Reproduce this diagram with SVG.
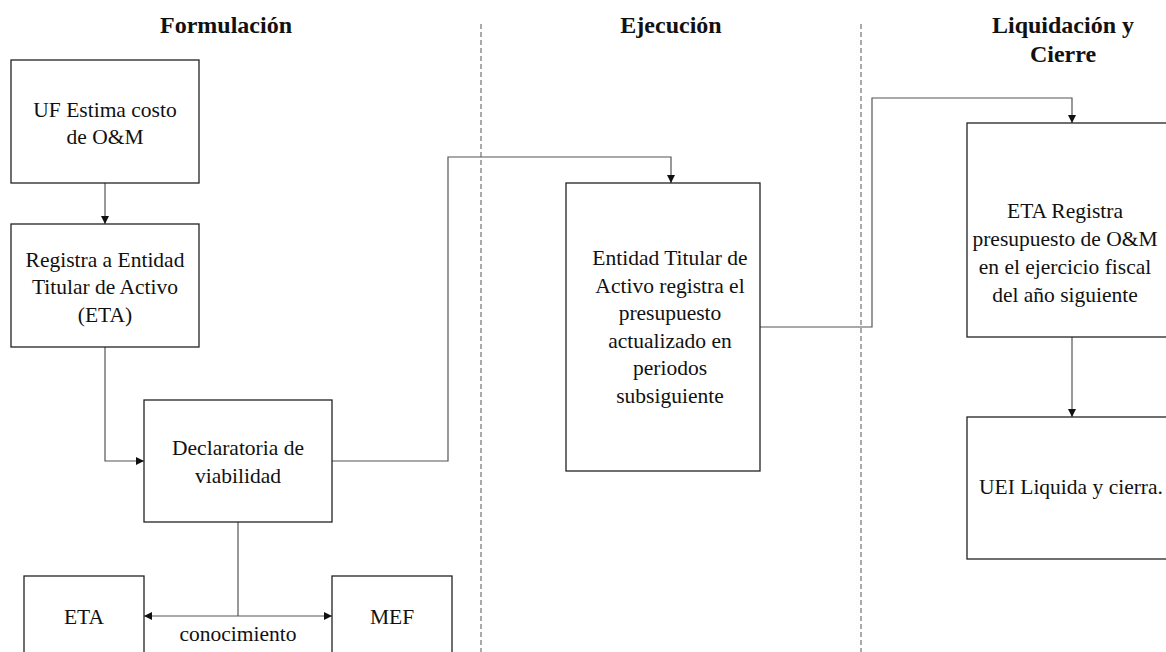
<svg xmlns="http://www.w3.org/2000/svg" width="1166" height="652" viewBox="0 0 1166 652">
<defs>
<marker id="ah" viewBox="0 0 10 10" refX="10" refY="5" markerWidth="8" markerHeight="8" markerUnits="userSpaceOnUse" orient="auto-start-reverse">
<path d="M0,0 L10,5 L0,10 z" fill="#111"/>
</marker>
<style>
.box{fill:#fff;stroke:#222;stroke-width:1.3}
.t{font-family:"Liberation Serif","Times New Roman",serif;font-size:21.5px;fill:#111;text-anchor:middle}
.h{font-family:"Liberation Serif","Times New Roman",serif;font-size:24px;font-weight:bold;fill:#111;text-anchor:middle}
.c{fill:none;stroke:#555;stroke-width:1.2}
.d{fill:none;stroke:#555;stroke-width:1;stroke-dasharray:5,3}
</style>
</defs>
<rect width="1166" height="652" fill="#fff"/>
<g id="lanes">
<line class="d" x1="481" y1="24" x2="481" y2="652"/>
<line class="d" x1="861" y1="24" x2="861" y2="652"/>
<text class="h" x="226" y="33">Formulación</text>
<text class="h" x="671" y="33">Ejecución</text>
<text class="h" x="1063" y="33">Liquidación y</text>
<text class="h" x="1063" y="62">Cierre</text>
</g>
<g id="connectors">
<path class="c" d="M105,183 L105,224" marker-end="url(#ah)"/>
<path class="c" d="M105,347 L105,461 L144,461" marker-end="url(#ah)"/>
<path class="c" d="M332,461 L448,461 L448,157 L671,157 L671,183" marker-end="url(#ah)"/>
<path class="c" d="M760,327 L872,327 L872,98 L1072,98 L1072,123" marker-end="url(#ah)"/>
<path class="c" d="M1072,337 L1072,417" marker-end="url(#ah)"/>
<path class="c" d="M238,522 L238,616"/>
<path class="c" d="M144,616 L332,616" marker-start="url(#ah)" marker-end="url(#ah)"/>
<text class="t" x="238" y="641">conocimiento</text>
</g>
<g id="n1">
<rect class="box" x="11" y="60" width="188" height="123"/>
<text class="t" x="105" y="117">UF Estima costo</text>
<text class="t" x="105" y="144">de O&amp;M</text>
</g>
<g id="n2">
<rect class="box" x="11" y="224" width="188" height="123"/>
<text class="t" x="105" y="267">Registra a Entidad</text>
<text class="t" x="105" y="294">Titular de Activo</text>
<text class="t" x="105" y="322">(ETA)</text>
</g>
<g id="n3">
<rect class="box" x="144" y="400" width="188" height="122"/>
<text class="t" x="238" y="455">Declaratoria de</text>
<text class="t" x="238" y="483">viabilidad</text>
</g>
<g id="n4">
<rect class="box" x="566" y="183" width="194" height="288"/>
<text class="t" x="670" y="265">Entidad Titular de</text>
<text class="t" x="670" y="293">Activo registra el</text>
<text class="t" x="670" y="320">presupuesto</text>
<text class="t" x="670" y="348">actualizado en</text>
<text class="t" x="670" y="375">periodos</text>
<text class="t" x="670" y="403">subsiguiente</text>
</g>
<g id="n5">
<rect class="box" x="967" y="123" width="210" height="214"/>
<text class="t" x="1065" y="218">ETA Registra</text>
<text class="t" x="1065" y="246">presupuesto de O&amp;M</text>
<text class="t" x="1065" y="274">en el ejercicio fiscal</text>
<text class="t" x="1065" y="302">del año siguiente</text>
</g>
<g id="n6">
<rect class="box" x="967" y="417" width="210" height="142"/>
<text class="t" x="1071" y="494">UEI Liquida y cierra.</text>
</g>
<g id="n7">
<rect class="box" x="24" y="576" width="120" height="90"/>
<text class="t" x="84" y="624">ETA</text>
</g>
<g id="n8">
<rect class="box" x="332" y="576" width="120" height="90"/>
<text class="t" x="392" y="624">MEF</text>
</g>
</svg>
